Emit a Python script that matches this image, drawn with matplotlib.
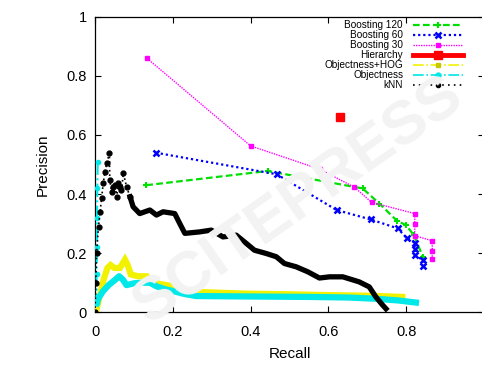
#!/usr/bin/env python3
"""Precision/recall curves: boosting variants vs hierarchy, objectness and kNN baselines."""

import matplotlib
matplotlib.use("Agg")
import matplotlib.pyplot as plt
from matplotlib.lines import Line2D
from matplotlib.ticker import FormatStrFormatter

plt.rcParams["font.family"] = ["Liberation Sans", "DejaVu Sans"]

# --- data ------------------------------------------------------------------
b120_r = [0.132, 0.444, 0.688, 0.731, 0.776, 0.799, 0.820, 0.843]
b120_p = [0.430, 0.478, 0.419, 0.368, 0.310, 0.295, 0.261, 0.187]

b60_r = [0.156, 0.467, 0.621, 0.709, 0.778, 0.801, 0.822, 0.822, 0.822, 0.844, 0.844]
b60_p = [0.540, 0.467, 0.346, 0.314, 0.284, 0.252, 0.236, 0.214, 0.193, 0.176, 0.156]

b30_r = [0.134, 0.400, 0.578, 0.667, 0.711, 0.822, 0.822, 0.822, 0.867, 0.867, 0.867]
b30_p = [0.859, 0.563, 0.484, 0.423, 0.372, 0.334, 0.300, 0.259, 0.242, 0.208, 0.180]

hier_r = [0.630]
hier_p = [0.660]

hog_r = [0.004, 0.013, 0.022, 0.032, 0.040, 0.050, 0.064, 0.077, 0.084, 0.092, 0.110,
         0.133, 0.145, 0.170, 0.192, 0.218, 0.260, 0.389, 0.500, 0.603, 0.700, 0.790]
hog_p = [0.010, 0.060, 0.110, 0.150, 0.160, 0.150, 0.150, 0.178, 0.160, 0.128, 0.122,
         0.122, 0.102, 0.095, 0.090, 0.076, 0.069, 0.063, 0.061, 0.058, 0.056, 0.052]

# objectness: thin run up the y axis, then the main curve
obj_axis_r = [0.007, 0.006, 0.005, 0.005, 0.004, 0.004]
obj_axis_p = [0.510, 0.420, 0.320, 0.220, 0.130, 0.030]
obj_r = [0.004, 0.010, 0.021, 0.035, 0.050, 0.062, 0.072, 0.081, 0.100, 0.120, 0.141,
         0.158, 0.180, 0.200, 0.230, 0.260, 0.350, 0.450, 0.550, 0.650, 0.720, 0.780, 0.825]
obj_p = [0.030, 0.050, 0.072, 0.092, 0.108, 0.122, 0.110, 0.092, 0.098, 0.100, 0.100,
         0.088, 0.078, 0.072, 0.062, 0.055, 0.054, 0.053, 0.052, 0.050, 0.046, 0.040, 0.033]

# kNN: scattered low-recall part, then the dense tail
knn_low_r = [0.000, 0.002, 0.004, 0.009, 0.013, 0.017, 0.021, 0.026, 0.030, 0.037, 0.038,
             0.043, 0.047, 0.051, 0.056, 0.060, 0.064, 0.068, 0.073, 0.081, 0.090]
knn_low_p = [0.000, 0.100, 0.200, 0.290, 0.340, 0.385, 0.436, 0.476, 0.504, 0.538, 0.447,
             0.408, 0.425, 0.430, 0.391, 0.436, 0.425, 0.413, 0.470, 0.425, 0.391]
knn_r = [0.090, 0.098, 0.115, 0.141, 0.158, 0.175, 0.205, 0.218, 0.231, 0.269, 0.299,
         0.329, 0.363, 0.389, 0.410, 0.440, 0.466, 0.487, 0.517, 0.547, 0.577, 0.603,
         0.637, 0.679, 0.705, 0.722, 0.739, 0.748]
knn_p = [0.391, 0.357, 0.334, 0.346, 0.329, 0.340, 0.334, 0.300, 0.267, 0.272, 0.278,
         0.255, 0.261, 0.233, 0.210, 0.199, 0.188, 0.165, 0.154, 0.137, 0.116, 0.120,
         0.120, 0.103, 0.086, 0.052, 0.025, 0.012]

labels = ["Boosting 120", "Boosting 60", "Boosting 30", "Hierarchy",
          "Objectness+HOG", "Objectness", "kNN"]

x_ticks = [0, 0.2, 0.4, 0.6, 0.8, 1]
x_ticklabels = ["0", "0.2", "0.4", "0.6", "0.8", ""]   # "1" falls off the cropped edge
y_ticks = [0, 0.2, 0.4, 0.6, 0.8, 1]

GREEN = "#00e000"
BLUE = "#0000ff"
MAGENTA = "#ff00ff"
RED = "#ff0000"
YELLOW = "#f2f200"
YELLOW_MK = "#c8c800"
CYAN = "#00e8e8"
BLACK = "#000000"

fig = plt.figure(figsize=(4.82, 3.67), dpi=100)
ax = fig.add_axes([95 / 482, 54.7 / 367, 389 / 482, 295.6 / 367])

# faint publisher watermark in the background
fig.text(0.62, 0.45, "SCITEPRESS", fontsize=44, fontweight="bold", color="#f3f3f3",
         rotation=35, ha="center", va="center", zorder=0)

ax.patch.set_alpha(0)

ax.plot(hog_r, hog_p, color=YELLOW, lw=4.5, solid_joinstyle="miter", zorder=3)
ax.plot(obj_axis_r, obj_axis_p, color=CYAN, lw=1.5, ls="-.", marker="o", ms=3, zorder=4)
ax.plot(obj_r, obj_p, color=CYAN, lw=4.5, zorder=4)

ax.plot(b120_r, b120_p, color=GREEN, lw=1.6, ls=(0, (3, 1.5)), marker="+", ms=4,
        mew=1.5, zorder=5)
ax.plot(b60_r, b60_p, color=BLUE, lw=1.6, ls=(0, (1, 1.3)), marker="x", ms=4,
        mew=1.8, zorder=5)
ax.plot(b30_r, b30_p, color=MAGENTA, lw=1.0, ls=(0, (1, 0.8)), marker="s", ms=3.5,
        zorder=5)
ax.plot(hier_r, hier_p, color=RED, ls="none", marker="s", ms=6, zorder=5)

ax.plot(knn_low_r, knn_low_p, color=BLACK, lw=1.2, ls=":", marker="o", ms=3.5, zorder=6)
ax.plot(knn_r, knn_p, color=BLACK, lw=3.8, zorder=6)

handles = [
    Line2D([], [], color=GREEN, lw=1.6, ls=(0, (3, 1.5)), marker="+", ms=4, mew=1.5),
    Line2D([], [], color=BLUE, lw=1.6, ls=(0, (1, 1.3)), marker="x", ms=4, mew=1.8),
    Line2D([], [], color=MAGENTA, lw=1.0, ls=(0, (1, 0.8)), marker="s", ms=3.5),
    Line2D([], [], color=RED, lw=3.5, ls="-", marker="s", ms=6),
    Line2D([], [], color=YELLOW, lw=1.2, ls="-.", marker="s", ms=3.5,
           mfc=YELLOW_MK, mec=YELLOW_MK),
    Line2D([], [], color=CYAN, lw=1.2, ls="-.", marker="o", ms=3.5),
    Line2D([], [], color=BLACK, lw=1.2, ls=(0, (1, 2.5)), marker="o", ms=3),
]
leg = ax.legend(handles, labels, loc="upper right", markerfirst=False, frameon=False,
                fontsize=7.2, labelspacing=0.0, handlelength=5.0, handletextpad=1.0,
                borderpad=0, borderaxespad=0,
                bbox_to_anchor=(463 / 482, 1 - 20 / 367), bbox_transform=fig.transFigure)
leg._legend_box._children[-1]._children[0].align = "right"

ax.set_xlim(0, 1)
ax.set_ylim(0, 1)
ax.set_xticks(x_ticks)
ax.set_xticklabels(x_ticklabels)
ax.set_yticks(y_ticks)
ax.yaxis.set_major_formatter(FormatStrFormatter("%g"))
ax.tick_params(direction="in", length=4, width=0.8, top=True, right=True,
               labelsize=10.5)
ax.tick_params(axis="x", pad=9)
ax.tick_params(axis="y", pad=6)
for s in ax.spines.values():
    s.set_linewidth(0.9)

ax.set_xlabel("Recall", fontsize=11, labelpad=6)
ax.set_ylabel("Precision", fontsize=11, labelpad=12)

fig.savefig("out.png", dpi=100)
